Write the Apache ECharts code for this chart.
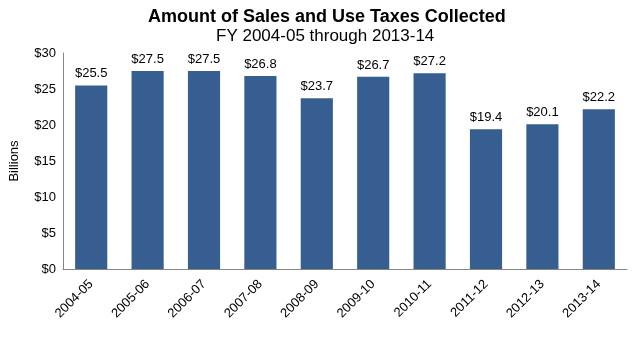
<!DOCTYPE html>
<html><head><meta charset="utf-8">
<script src="https://cdn.jsdelivr.net/npm/echarts@6/dist/echarts.min.js"></script>
<style>html,body{margin:0;padding:0;background:#fff}#c{width:632px;height:339px}</style>
</head><body><div id="c"></div>
<script>
const categories = ["2004-05","2005-06","2006-07","2007-08","2008-09","2009-10","2010-11","2011-12","2012-13","2013-14"];
const values = [25.5,27.5,27.5,26.8,23.7,26.7,27.2,19.4,20.1,22.2];
const yTicks = [0,5,10,15,20,25,30];
const chart = echarts.init(document.getElementById('c'));
chart.setOption({
  animation:false,
  textStyle:{fontFamily:'Liberation Sans, Arial, sans-serif'},
  title:[
    {text:'Amount of Sales and Use Taxes Collected',left:143,top:3,textStyle:{fontSize:18,fontWeight:'bold',color:'#000',fontFamily:'Liberation Sans'}},
    {text:'FY 2004-05 through 2013-14',left:211,top:23,textStyle:{fontSize:17,fontWeight:'normal',color:'#000',fontFamily:'Liberation Sans'}}
  ],
  grid:{left:59,right:5,top:53,bottom:70,containLabel:false},
  xAxis:{type:'category',data:categories,
    axisLine:{lineStyle:{color:'#868686'}},axisTick:{show:false},
    axisLabel:{rotate:45,color:'#000',fontSize:13,margin:13,interval:0}},
  yAxis:{type:'value',min:yTicks[0],max:yTicks[yTicks.length-1],interval:5,
    name:'Billions',nameLocation:'middle',nameGap:42,nameTextStyle:{color:'#000',fontSize:13},
    axisLine:{show:true,lineStyle:{color:'#868686'}},axisTick:{show:false},splitLine:{show:false},
    axisLabel:{color:'#000',fontSize:13,margin:7,formatter:v=>'$'+v}},
  series:[{type:'bar',data:values,barWidth:'57%',itemStyle:{color:'#365E91'},
    label:{show:true,position:'top',distance:5,color:'#000',fontSize:13,formatter:p=>'$'+p.value.toFixed(1)}}]
});
</script></body></html>
